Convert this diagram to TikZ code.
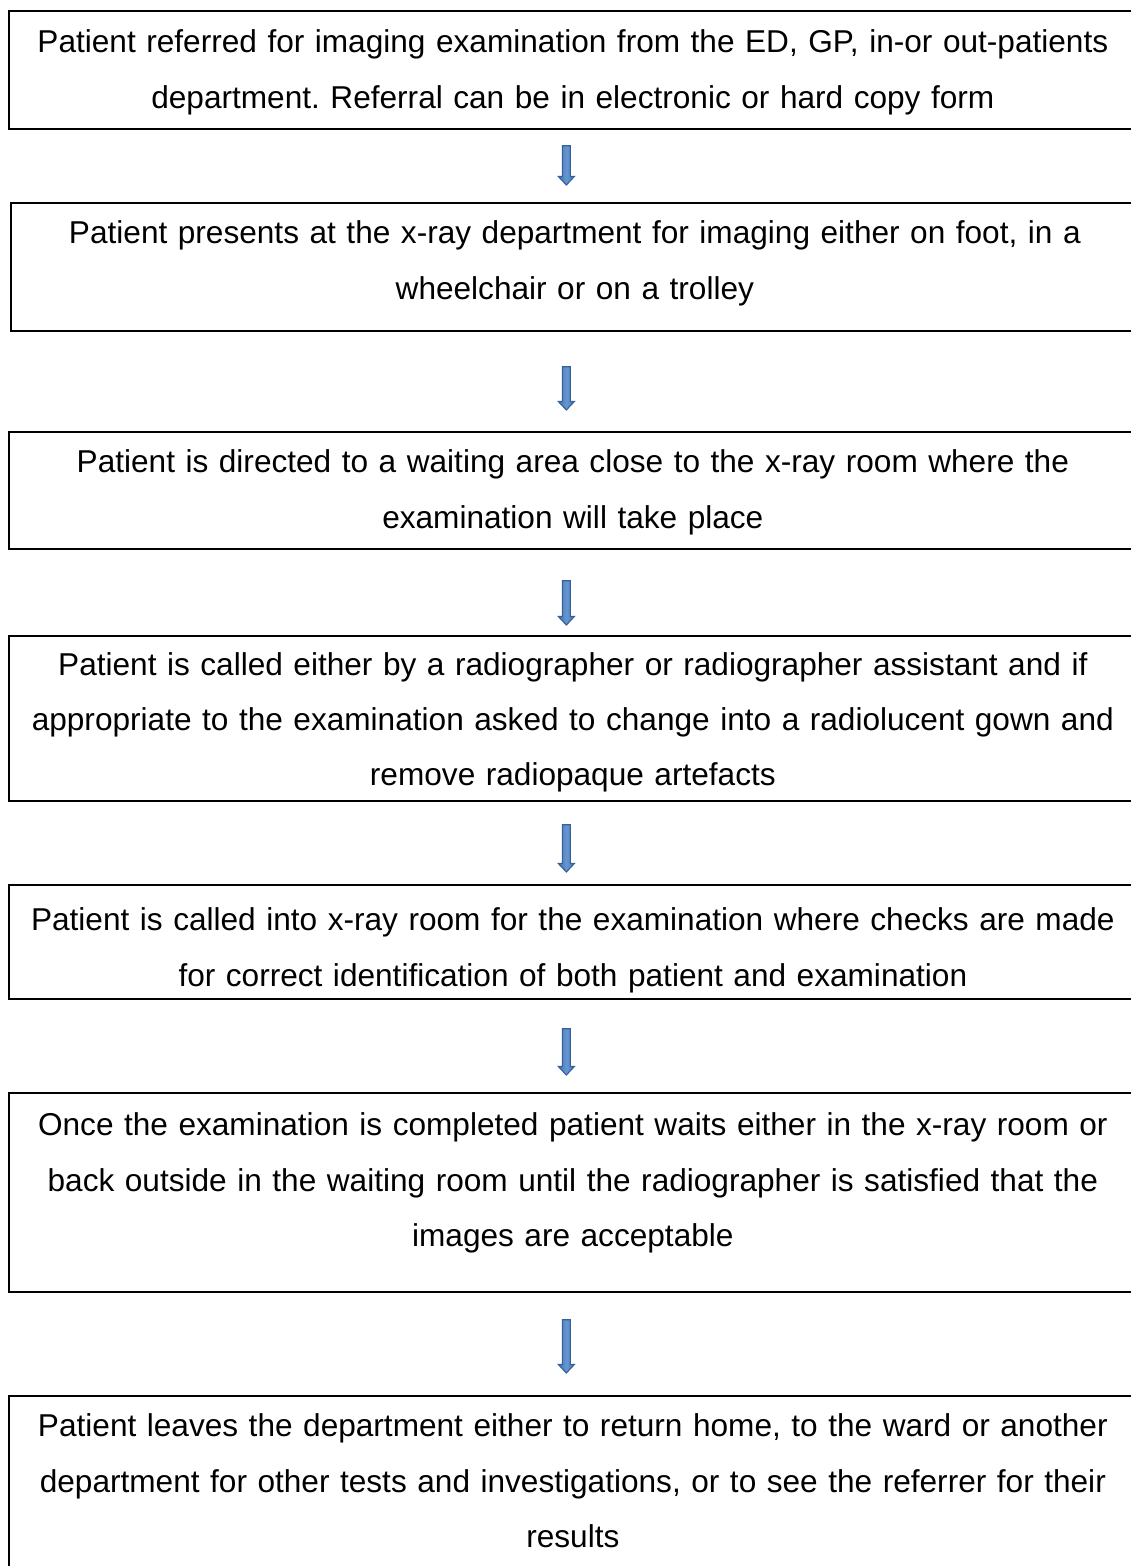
\documentclass[tikz,border=0pt]{standalone}
\usepackage{fontspec}
\setmainfont{Liberation Sans}
\usetikzlibrary{calc}

\definecolor{arrowedge}{HTML}{36609A}
\definecolor{arrowfill}{HTML}{4677B4}
\definecolor{arrowlight}{HTML}{6596D2}

\tikzset{
  stagebox/.style={draw=black, line width=1.7pt, anchor=north west,
    inner sep=0pt, text width=1128pt, align=center,
    font=\fontsize{31.6pt}{55.2pt}\selectfont\frenchspacing},
  % block arrow drawn straight down from the start point to the tip
  flowarrow/.style={draw=arrowedge, line width=1.1pt,
    left color=arrowfill, right color=arrowfill, middle color=arrowlight,
    to path={let \p1=(\tikztostart), \p2=(\tikztotarget) in
      (\x1-4pt,\y1) -- (\x1+4pt,\y1) -- (\x1+4pt,\y2+8.5pt) -- (\x1+8pt,\y2+8.5pt)
      -- (\x1,\y2) -- (\x1-8pt,\y2+8.5pt) -- (\x1-4pt,\y2+8.5pt) -- cycle}}
}

\begin{document}
\begin{tikzpicture}[x=1pt, y=1pt]
\useasboundingbox (0,0) rectangle (1131,-1566);
\clip (0,0) rectangle (1131,-1566);

\node[stagebox, text height=42pt, text depth=76pt] (b1) at (8,-10)
  {Patient referred for imaging examination from the ED, GP, in-or out-patients\\
   department. Referral can be in electronic or hard copy form};
\node[stagebox, text height=41pt, text depth=87pt] (b2) at (10,-202)
  {Patient presents at the x-ray department for imaging either on foot, in a\\
   wheelchair or on a trolley};
\node[stagebox, text height=41pt, text depth=76pt] (b3) at (8,-431)
  {Patient is directed to a waiting area close to the x-ray room where the\\
   examination will take place};
\node[stagebox, text height=39.5pt, text depth=125.5pt] (b4) at (8,-635)
  {Patient is called either by a radiographer or radiographer assistant and if\\
   appropriate to the examination asked to change into a radiolucent gown and\\
   remove radiopaque artefacts};
\node[stagebox, text height=46pt, text depth=68pt] (b5) at (8,-884)
  {Patient is called into x-ray room for the examination where checks are made\\
   for correct identification of both patient and examination};
\node[stagebox, text height=43pt, text depth=156pt] (b6) at (8,-1092)
  {Once the examination is completed patient waits either in the x-ray room or\\
   back outside in the waiting room until the radiographer is satisfied that the\\
   images are acceptable};
\node[stagebox, text height=41pt, text depth=200pt] (b7) at (8,-1395)
  {Patient leaves the department either to return home, to the ward or another\\
   department for other tests and investigations, or to see the referrer for their\\
   results};

\draw[flowarrow] ([xshift=-6.5pt,yshift=-16pt]b1.south) to ([yshift=17pt]b2.north);
\draw[flowarrow] ([xshift=-8.5pt,yshift=-35pt]b2.south) to ([yshift=21pt]b3.north);
\draw[flowarrow] ([xshift=-6.5pt,yshift=-31pt]b3.south) to ([yshift=10pt]b4.north);
\draw[flowarrow] ([xshift=-6.5pt,yshift=-23pt]b4.south) to ([yshift=12pt]b5.north);
\draw[flowarrow] ([xshift=-6.5pt,yshift=-29pt]b5.south) to ([yshift=17pt]b6.north);
\draw[flowarrow] ([xshift=-6.5pt,yshift=-27pt]b6.south) to ([yshift=22pt]b7.north);
\end{tikzpicture}
\end{document}
